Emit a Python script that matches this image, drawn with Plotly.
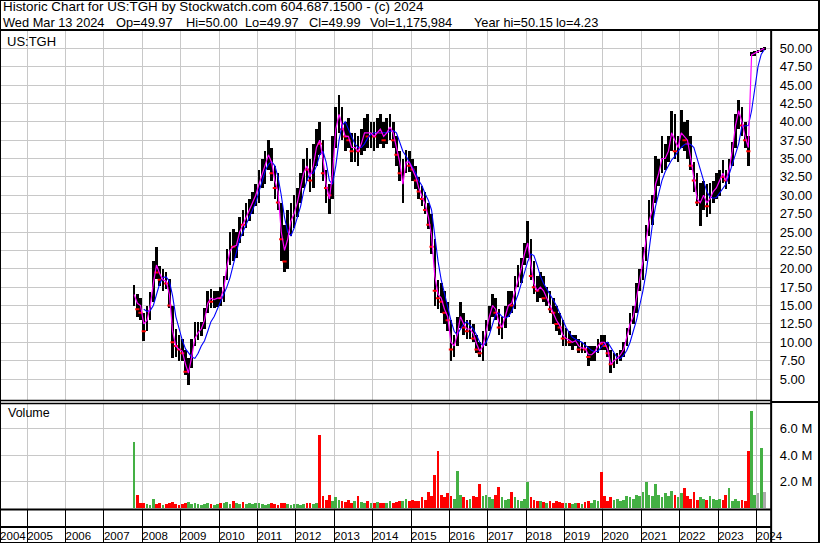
import plotly.graph_objects as go

# ---------------- DATA (monthly, Oct 2007 .. Mar 2024) ----------------
high = [
    17.8, 16.6, 16.0,  # 2007 Oct-Dec
    14.0, 15.0, 16.8, 21.0, 23.0, 20.4, 20.0, 19.5, 18.6, 15.0, 11.8, 11.0,  # 2008
    10.5, 9.0, 7.8, 10.5, 12.8, 12.8, 12.8, 14.6, 17.0, 17.3, 17.0, 17.0,  # 2009
    17.5, 19.0, 22.7, 25.0, 25.4, 25.0, 27.0, 28.0, 29.0, 29.5, 30.5, 31.5,  # 2010
    33.5, 35.0, 36.0, 37.5, 36.5, 34.0, 33.0, 29.0, 26.0, 28.0, 29.0, 30.0,  # 2011
    31.0, 33.0, 35.0, 36.5, 35.0, 37.0, 39.0, 40.0, 37.5, 33.5, 31.5, 38.0,  # 2012
    42.0, 43.6, 42.0, 40.0, 40.5, 38.5, 38.5, 38.0, 39.0, 40.5, 41.0, 40.0,  # 2013
    40.0, 40.5, 41.0, 40.0, 40.5, 41.0, 40.0, 38.0, 36.0, 34.9, 36.2, 36.0,  # 2014
    35.0, 34.0, 32.5, 31.3, 30.5, 29.0, 27.5, 24.0, 18.5, 18.0, 17.0, 15.5,  # 2015
    13.0, 11.0, 13.5, 15.5, 14.0, 13.0, 13.0, 12.5, 11.0, 10.0, 11.5, 13.0,  # 2016
    15.0, 16.5, 16.0, 14.5, 13.5, 15.0, 17.0, 17.0, 19.0, 20.5, 21.5, 23.5,  # 2017
    26.5, 24.0, 21.0, 19.0, 19.5, 19.0, 17.5, 17.0, 16.0, 15.0, 14.0, 13.0,  # 2018
    12.0, 11.5, 11.0, 11.0, 10.5, 10.0, 10.0, 9.5, 9.5, 9.5, 10.5, 11.0,  # 2019
    11.0, 10.0, 9.0, 8.5, 8.5, 9.0, 10.0, 12.0, 14.0, 15.0, 18.0, 20.0,  # 2020
    23.0, 26.0, 29.4, 30.0, 35.3, 35.0, 38.0, 37.0, 38.0, 41.5, 41.0, 38.0,  # 2021
    41.6, 40.0, 40.3, 38.0, 34.5, 33.0, 31.7, 32.0, 31.5, 31.7, 32.0, 33.0,  # 2022
    33.5, 34.8, 33.5, 35.0, 37.2, 41.0, 43.0, 42.0, 40.0, 38.0, 49.5, 49.6,  # 2023
    49.8, 50.0, 50.15,  # 2024 Jan-Mar
]
low = [
    15.0, 13.5, 13.0,
    10.2, 11.5, 13.0, 15.5, 18.6, 17.7, 17.0, 17.2, 14.6, 7.8, 8.0, 7.4,
    7.4, 5.5, 4.23, 6.5, 9.5, 10.3, 10.9, 11.8, 14.0, 14.6, 14.6, 14.8,
    15.0, 15.5, 18.5, 20.5, 21.0, 21.5, 23.5, 24.5, 25.5, 26.5, 27.5, 28.5,
    29.0, 31.0, 31.5, 33.5, 32.0, 29.5, 28.0, 21.0, 19.5, 20.0, 24.5, 25.5,
    27.0, 29.0, 31.0, 32.0, 30.5, 31.0, 34.0, 35.5, 32.0, 29.0, 27.5, 29.5,
    36.5, 38.5, 37.5, 36.0, 36.5, 34.5, 34.5, 34.0, 35.5, 36.0, 36.5, 36.5,
    36.0, 36.5, 37.0, 36.5, 37.0, 37.5, 36.5, 34.0, 32.0, 29.0, 33.0, 33.1,
    32.0, 30.8, 29.5, 28.5, 27.5, 25.4, 22.0, 15.0, 14.5, 14.0, 12.5, 11.5,
    7.5, 8.0, 9.5, 12.0, 11.0, 10.5, 10.5, 10.0, 8.5, 8.0, 7.5, 9.5,
    11.5, 13.5, 13.0, 11.0, 10.5, 12.0, 13.5, 14.0, 14.5, 17.5, 18.0, 20.5,
    21.5, 18.5, 16.5, 15.5, 16.0, 15.5, 15.0, 14.0, 12.5, 11.5, 11.0, 9.5,
    9.5, 9.5, 9.0, 9.5, 8.5, 8.5, 8.5, 6.8, 7.5, 7.5, 8.5, 9.0,
    9.0, 8.0, 5.8, 6.5, 7.0, 7.5, 8.0, 9.5, 11.0, 12.5, 14.0, 17.0,
    18.5, 21.0, 24.5, 26.0, 29.0, 31.2, 33.0, 33.5, 34.5, 36.0, 35.0, 34.5,
    36.5, 36.0, 35.0, 33.5, 30.5, 28.5, 25.8, 28.0, 27.0, 27.5, 29.0, 29.5,
    29.9, 31.7, 30.8, 31.5, 34.0, 36.5, 39.0, 38.0, 36.5, 34.0, 48.9, 49.0,
    49.3, 49.5, 49.7,
]
close = [
    16.0, 14.5, 14.0,
    11.5, 14.0, 15.5, 20.0, 19.5, 18.5, 18.8, 18.0, 15.0, 10.0, 9.5, 9.0,
    8.5, 6.0, 6.5, 9.5, 11.0, 11.5, 12.0, 14.0, 16.0, 15.5, 16.0, 16.5,
    16.0, 18.5, 21.5, 23.5, 23.0, 24.0, 26.5, 26.0, 28.0, 28.5, 30.0, 30.5,
    33.0, 34.0, 35.0, 36.0, 33.0, 31.0, 29.0, 24.0, 21.0, 27.0, 27.5, 29.0,
    30.0, 32.0, 34.0, 33.5, 32.0, 36.0, 37.5, 37.0, 33.0, 31.0, 30.0, 37.0,
    40.0, 41.0, 39.0, 38.0, 37.5, 36.0, 36.5, 36.0, 37.5, 39.0, 38.0, 39.0,
    38.0, 39.0, 38.5, 37.5, 39.0, 39.5, 37.5, 35.5, 33.0, 33.5, 35.0, 34.0,
    33.5, 32.0, 30.5, 29.5, 28.0, 26.0, 23.0, 17.0, 16.0, 15.5, 14.0, 13.0,
    9.0, 10.0, 12.5, 13.5, 12.0, 11.5, 12.0, 10.5, 9.0, 8.5, 10.5, 12.5,
    14.5, 15.5, 14.0, 12.0, 12.5, 14.0, 15.5, 15.0, 18.0, 19.0, 21.0, 22.0,
    24.0, 19.0, 17.5, 17.0, 18.0, 16.0, 16.3, 14.5, 14.0, 12.5, 12.0, 10.5,
    11.0, 10.0, 10.2, 10.5, 9.0, 9.5, 9.0, 8.0, 8.5, 9.0, 10.0, 9.8,
    9.5, 8.5, 7.0, 7.5, 8.0, 8.5, 9.5, 11.5, 13.0, 14.0, 17.5, 19.0,
    22.0, 25.0, 27.0, 29.0, 33.0, 33.5, 35.0, 35.5, 36.0, 39.0, 36.0, 36.5,
    38.0, 37.5, 37.0, 34.0, 32.0, 29.0, 30.0, 30.5, 28.5, 30.0, 31.0, 31.5,
    33.0, 32.5, 32.0, 34.5, 36.5, 40.0, 41.0, 39.5, 37.5, 36.0, 49.3, 49.4,
    49.4, 49.99, 49.99,
]
ma_short = [
    16.5, 15.3, 15.0,
    12.5, 13.0, 14.8, 18.0, 20.5, 19.3, 18.5, 18.3, 16.5, 11.5, 9.5, 9.0,
    8.8, 7.0, 5.8, 8.0, 10.5, 11.3, 11.8, 13.0, 15.3, 16.0, 15.8, 16.0,
    16.0, 17.3, 20.3, 22.5, 23.0, 23.2, 25.0, 26.0, 27.0, 28.0, 29.0, 30.0,
    31.5, 33.0, 34.0, 35.5, 34.5, 32.0, 30.5, 25.0, 22.5, 24.0, 26.5, 27.5,
    29.0, 31.0, 33.0, 34.0, 32.5, 34.0, 36.5, 37.5, 35.0, 31.5, 29.5, 33.0,
    39.0, 41.0, 39.5, 38.0, 38.0, 36.5, 36.5, 36.0, 37.0, 38.5, 38.5, 38.5,
    38.0, 38.5, 39.0, 38.0, 38.5, 39.3, 38.5, 36.5, 34.5, 31.5, 34.5, 34.5,
    33.5, 32.5, 31.0, 30.0, 28.8, 27.0, 24.5, 19.0, 16.5, 16.0, 14.5, 13.5,
    10.0, 9.5, 11.0, 13.5, 12.5, 11.8, 11.8, 11.2, 9.8, 8.8, 9.5, 11.5,
    13.5, 15.0, 14.5, 12.8, 12.0, 13.5, 15.0, 15.3, 16.8, 18.5, 20.0, 22.0,
    23.5, 20.5, 18.0, 17.0, 17.5, 17.0, 16.0, 15.0, 14.0, 13.0, 12.3, 11.0,
    10.5, 10.3, 10.0, 10.2, 9.5, 9.2, 9.2, 8.3, 8.3, 8.7, 9.5, 10.0,
    10.0, 9.0, 7.0, 7.5, 7.8, 8.3, 9.0, 10.8, 12.5, 13.5, 16.0, 18.5,
    21.0, 24.0, 26.5, 28.0, 31.5, 33.0, 35.0, 35.0, 36.0, 38.5, 37.5, 36.5,
    38.5, 38.0, 37.5, 35.0, 32.5, 29.5, 29.0, 30.0, 29.0, 29.5, 30.5, 31.0,
    32.0, 33.0, 32.0, 33.5, 36.0, 39.5, 41.5, 40.0, 38.0, 36.5, 49.1, 49.3,
    49.5, 49.7, 50.0,
]
ma_long = [
    None, None, None,
    14.5, 14.2, 14.3, 15.0, 16.5, 18.0, 18.8, 18.9, 18.3, 16.3, 13.5, 11.8,
    10.3, 9.1, 8.5, 8.0, 7.8, 8.5, 9.5, 10.2, 11.5, 12.8, 13.5, 14.5,
    15.5, 16.5, 17.5, 18.8, 20.5, 22.2, 24.0, 25.0, 26.0, 27.0, 28.0, 29.0,
    30.5, 32.0, 33.3, 34.2, 34.6, 34.0, 32.5, 30.0, 27.0, 25.0, 24.5, 25.5,
    27.0, 28.5, 30.5, 32.0, 33.0, 33.0, 34.0, 35.5, 36.0, 34.5, 32.0, 31.5,
    34.0, 37.5, 39.5, 40.0, 39.0, 38.0, 37.0, 36.5, 36.5, 37.0, 37.8, 38.3,
    38.5, 38.5, 38.5, 38.5, 38.5, 38.7, 38.8, 38.5, 37.3, 36.0, 35.3, 34.5,
    33.8, 33.0, 32.0, 31.3, 30.2, 29.3, 28.0, 24.5, 21.0, 18.5, 16.5, 15.0,
    13.0, 11.5, 11.0, 11.8, 12.5, 12.8, 12.3, 11.8, 11.0, 10.0, 9.5, 10.0,
    11.0, 12.5, 13.8, 14.0, 13.5, 13.3, 13.5, 14.2, 15.3, 16.5, 18.0, 19.5,
    21.0, 22.0, 21.8, 20.5, 19.0, 18.0, 17.3, 16.5, 15.8, 15.0, 14.0, 13.0,
    12.0, 11.3, 10.7, 10.4, 10.2, 10.0, 9.6, 9.2, 8.9, 8.7, 8.8, 9.3,
    9.8, 10.0, 9.3, 8.5, 7.9, 7.8, 8.2, 8.9, 10.0, 11.5, 13.0, 15.0,
    17.0, 19.5, 23.0, 26.0, 28.5, 30.5, 32.0, 33.2, 34.0, 34.8, 35.3, 36.0,
    36.5, 36.9, 37.0, 36.9, 36.5, 35.0, 33.5, 32.0, 30.5, 29.8, 29.6, 29.7,
    30.3, 30.8, 31.5, 32.8, 34.2, 35.5, 37.0, 39.4, 39.4, 39.5, 41.5, 44.5,
    47.5, 49.2, 49.8,
]
volume_m = [
    5.0, 1.0, 0.4,
    0.35, 0.3, 0.25, 0.7, 0.3, 0.35, 0.25, 0.3, 0.35, 0.45, 0.3, 0.25,
    0.3, 0.35, 0.45, 0.3, 0.35, 0.3, 0.25, 0.3, 0.35, 0.3, 0.25, 0.3,
    0.4, 0.35, 0.45, 0.3, 0.5, 0.35, 0.3, 0.45, 0.3, 0.35, 0.3, 0.4,
    0.35, 0.3, 0.25, 0.3, 0.35, 0.3, 0.25, 0.4, 0.35, 0.3, 0.25, 0.3,
    0.3, 0.25, 0.3, 0.35, 0.4, 0.3, 0.35, 5.5, 0.9, 0.6, 1.0, 0.5,
    0.8, 0.6, 0.5, 0.45, 0.6, 0.4, 0.5, 0.9, 0.45, 0.4, 0.5, 0.35,
    0.4, 0.45, 0.4, 0.35, 0.4, 0.5, 0.35, 0.45, 0.55, 0.5, 0.7, 0.5,
    0.6, 0.5, 0.55, 0.8, 0.6, 1.2, 0.9, 2.5, 4.3, 1.0, 0.8, 1.1,
    0.9, 0.7, 2.8, 1.0, 0.8, 0.6, 0.7, 0.9, 0.8, 1.8, 0.9, 1.0,
    0.8, 0.7, 1.0, 1.6, 0.8, 0.6, 0.7, 1.2, 0.8, 0.6, 0.5, 0.7,
    2.0, 0.8, 0.6, 0.5, 0.55, 0.45, 0.4, 0.5, 0.35, 0.5, 0.45, 0.4,
    0.35, 0.4, 0.3, 0.35, 0.4, 0.3, 0.45, 0.5, 0.35, 0.6, 0.5, 2.7,
    0.9, 0.5, 0.8, 0.6, 0.7, 0.5, 0.6, 0.9, 0.8, 0.7, 1.0, 0.9,
    1.2, 2.0, 1.0, 0.9, 1.8, 1.0, 0.8, 1.1, 0.9, 1.3, 1.0, 0.8,
    1.1, 1.5, 0.9, 0.7, 1.2, 0.6, 0.8, 0.7, 0.6, 0.9, 0.7, 0.6,
    0.7, 0.6, 1.0, 1.5, 0.5, 0.7, 0.5, 0.6, 0.5, 4.3, 7.3, 1.0,
    1.1, 4.5, 1.2,
]
price_ticks = [5.0, 7.5, 10.0, 12.5, 15.0, 17.5, 20.0, 22.5, 25.0, 27.5,
               30.0, 32.5, 35.0, 37.5, 40.0, 42.5, 45.0, 47.5, 50.0]
vol_ticks = [2, 4, 6]
vol_tick_labels = ["2.0 M", "4.0 M", "6.0 M"]
year_labels = [str(y) for y in range(2004, 2025)]
header_line1 = "Historic Chart for US:TGH by Stockwatch.com 604.687.1500 - (c) 2024"
header_fields = ["Wed Mar 13 2024", "Op=49.97", "Hi=50.00", "Lo=49.97",
                 "Cl=49.99", "Vol=1,175,984", "Year hi=50.15", "lo=4.23"]

# month stamps (mid-month) Oct 2007 .. Mar 2024
months = []
yy, mm = 2007, 10
while (yy, mm) <= (2024, 3):
    months.append(f"{yy}-{mm:02d}-15")
    mm += 1
    if mm > 12:
        mm, yy = 1, yy + 1

# ---------------- FIGURE ----------------
W, H = 830, 543
DAY = 86400000
PX_R = 781.5          # right edge of plotting area (px)
X_RANGE = ["2004-04-17", "2024-05-19"]

def px(x):
    return x / W

def py(y):
    return 1 - y / H

FONT = "Liberation Sans, Arial, sans-serif"

fig = go.Figure()

# high-low bars
fig.add_trace(go.Bar(
    x=months, y=[h - l for h, l in zip(high, low)], base=low,
    width=25 * DAY, marker=dict(color="black", line=dict(width=0)),
    xaxis="x", yaxis="y", hoverinfo="skip", showlegend=False))

# red ticks on down months
dn_x = [months[i] for i in range(1, len(close)) if close[i] < close[i - 1]]
dn_y = [close[i] for i in range(1, len(close)) if close[i] < close[i - 1]]
fig.add_trace(go.Scatter(
    x=dn_x, y=dn_y, mode="markers",
    marker=dict(symbol="line-ew", size=3, line=dict(color="#ff0000", width=2)),
    xaxis="x", yaxis="y", hoverinfo="skip", showlegend=False))

fig.add_trace(go.Scatter(
    x=months, y=ma_long, mode="lines", line=dict(color="#0000ff", width=1.1),
    xaxis="x", yaxis="y", hoverinfo="skip", showlegend=False))
fig.add_trace(go.Scatter(
    x=months, y=ma_short, mode="lines", line=dict(color="#ff00ff", width=1.2),
    xaxis="x", yaxis="y", hoverinfo="skip", showlegend=False))

# volume
vcol = []
for i in range(len(close)):
    if i == 0 or close[i] > close[i - 1]:
        vcol.append("#44b044")
    elif close[i] < close[i - 1]:
        vcol.append("#ff0000")
    else:
        vcol.append("#aaaaaa")
fig.add_trace(go.Bar(
    x=months, y=volume_m, width=26 * DAY,
    marker=dict(color=vcol, line=dict(width=0)),
    xaxis="x2", yaxis="y2", hoverinfo="skip", showlegend=False))

# dummy trace to create the year-label axis (overlaid on the volume panel)
fig.add_trace(go.Scatter(x=[months[0]], y=[None], xaxis="x3", yaxis="y2",
                         mode="markers", hoverinfo="skip", showlegend=False))

grid = "#c8c8c8"
xcommon = dict(type="date", range=X_RANGE, domain=[0, px(PX_R)],
               showgrid=True, gridcolor=grid, gridwidth=1,
               dtick="M12", tick0="2005-01-01", zeroline=False,
               showline=False, fixedrange=True)

year_ticks = ["2004-04-18"] + [f"{y}-01-01" for y in range(2005, 2025)]

fig.update_layout(
    width=W, height=H, margin=dict(l=0, r=0, t=0, b=0, pad=0),
    paper_bgcolor="white", plot_bgcolor="white",
    bargap=0, barmode="overlay", showlegend=False,
    font=dict(family=FONT, color="black"),
    xaxis=dict(**xcommon, anchor="y", showticklabels=False, ticks="",
               rangeslider=dict(visible=False)),
    xaxis2=dict(**xcommon, anchor="y2", matches="x", showticklabels=False,
                ticks="outside", ticklen=34, tickcolor="black", tickwidth=1),
    xaxis3=dict(type="date", range=X_RANGE, domain=[0, px(PX_R)],
                anchor="free", position=py(527), overlaying="x2",
                showgrid=False, zeroline=False, showline=False, ticks="",
                tickmode="array", tickvals=year_ticks, ticktext=year_labels,
                tickangle=0, ticklabelposition="outside right",
                tickfont=dict(family=FONT, size=11.5, color="black"),
                fixedrange=True),
    yaxis=dict(domain=[py(400.5), py(30.5)], range=[2.074, 52.42],
               side="right", anchor="x", tickmode="array", tickvals=price_ticks,
               tickformat=".2f", showgrid=True, gridcolor=grid, gridwidth=1,
               zeroline=False, showline=False, ticks="outside", ticklen=5,
               tickcolor="rgba(0,0,0,0)",
               tickfont=dict(family=FONT, size=13, color="black"),
               fixedrange=True),
    yaxis2=dict(domain=[py(509), py(404)], range=[-0.075, 7.849],
                side="right", anchor="x2", tickmode="array", tickvals=vol_ticks,
                ticktext=vol_tick_labels, showgrid=True, gridcolor=grid,
                gridwidth=1, zeroline=False, showline=False, ticks="outside",
                ticklen=5, tickcolor="rgba(0,0,0,0)",
                tickfont=dict(family=FONT, size=13, color="black"),
                fixedrange=True),
)

# frame lines
def hline(y, x0, x1, w=2):
    return dict(type="line", xref="paper", yref="paper", x0=px(x0), x1=px(x1),
                y0=py(y), y1=py(y), line=dict(color="black", width=w), layer="above")

def vline(x, y0, y1, w=2):
    return dict(type="line", xref="paper", yref="paper", x0=px(x), x1=px(x),
                y0=py(y0), y1=py(y1), line=dict(color="black", width=w), layer="above")

shapes = [
    dict(type="rect", xref="paper", yref="paper", x0=0, y0=0, x1=1, y1=1,
         line=dict(color="black", width=2), layer="above"),
    hline(30, 0, W),
    vline(PX_R, 30, H),
    hline(400.5, 0, PX_R, 1.5),
    hline(403.5, 0, PX_R, 1.5),
    hline(402, PX_R, W, 2),
    hline(509.5, 0, PX_R, 2),
    hline(527, 0, PX_R, 2),
]
fig.update_layout(shapes=shapes)

ann = []
ann.append(dict(text=header_line1, x=px(1), y=py(7), xref="paper", yref="paper",
                xanchor="left", yanchor="middle", showarrow=False,
                font=dict(family=FONT, size=13.4, color="black")))
field_x = [1, 116, 186, 246, 311, 373, 478, 561]
for fx, t in zip(field_x, header_fields):
    ann.append(dict(text=t, x=px(fx), y=py(22), xref="paper", yref="paper",
                    xanchor="left", yanchor="middle", showarrow=False,
                    font=dict(family=FONT, size=12.8, color="black")))
ann.append(dict(text="US:TGH", x=px(5), y=py(41), xref="paper", yref="paper",
                xanchor="left", yanchor="middle", showarrow=False,
                font=dict(family=FONT, size=13, color="black")))
ann.append(dict(text="Volume", x=px(6), y=py(413), xref="paper", yref="paper",
                xanchor="left", yanchor="middle", showarrow=False,
                font=dict(family=FONT, size=12.5, color="black")))
fig.update_layout(annotations=ann)

fig.write_html("out.html",
               config={"displayModeBar": False, "staticPlot": True},
               post_script="document.body.style.margin='0';"
                           "document.body.style.overflow='hidden';")
